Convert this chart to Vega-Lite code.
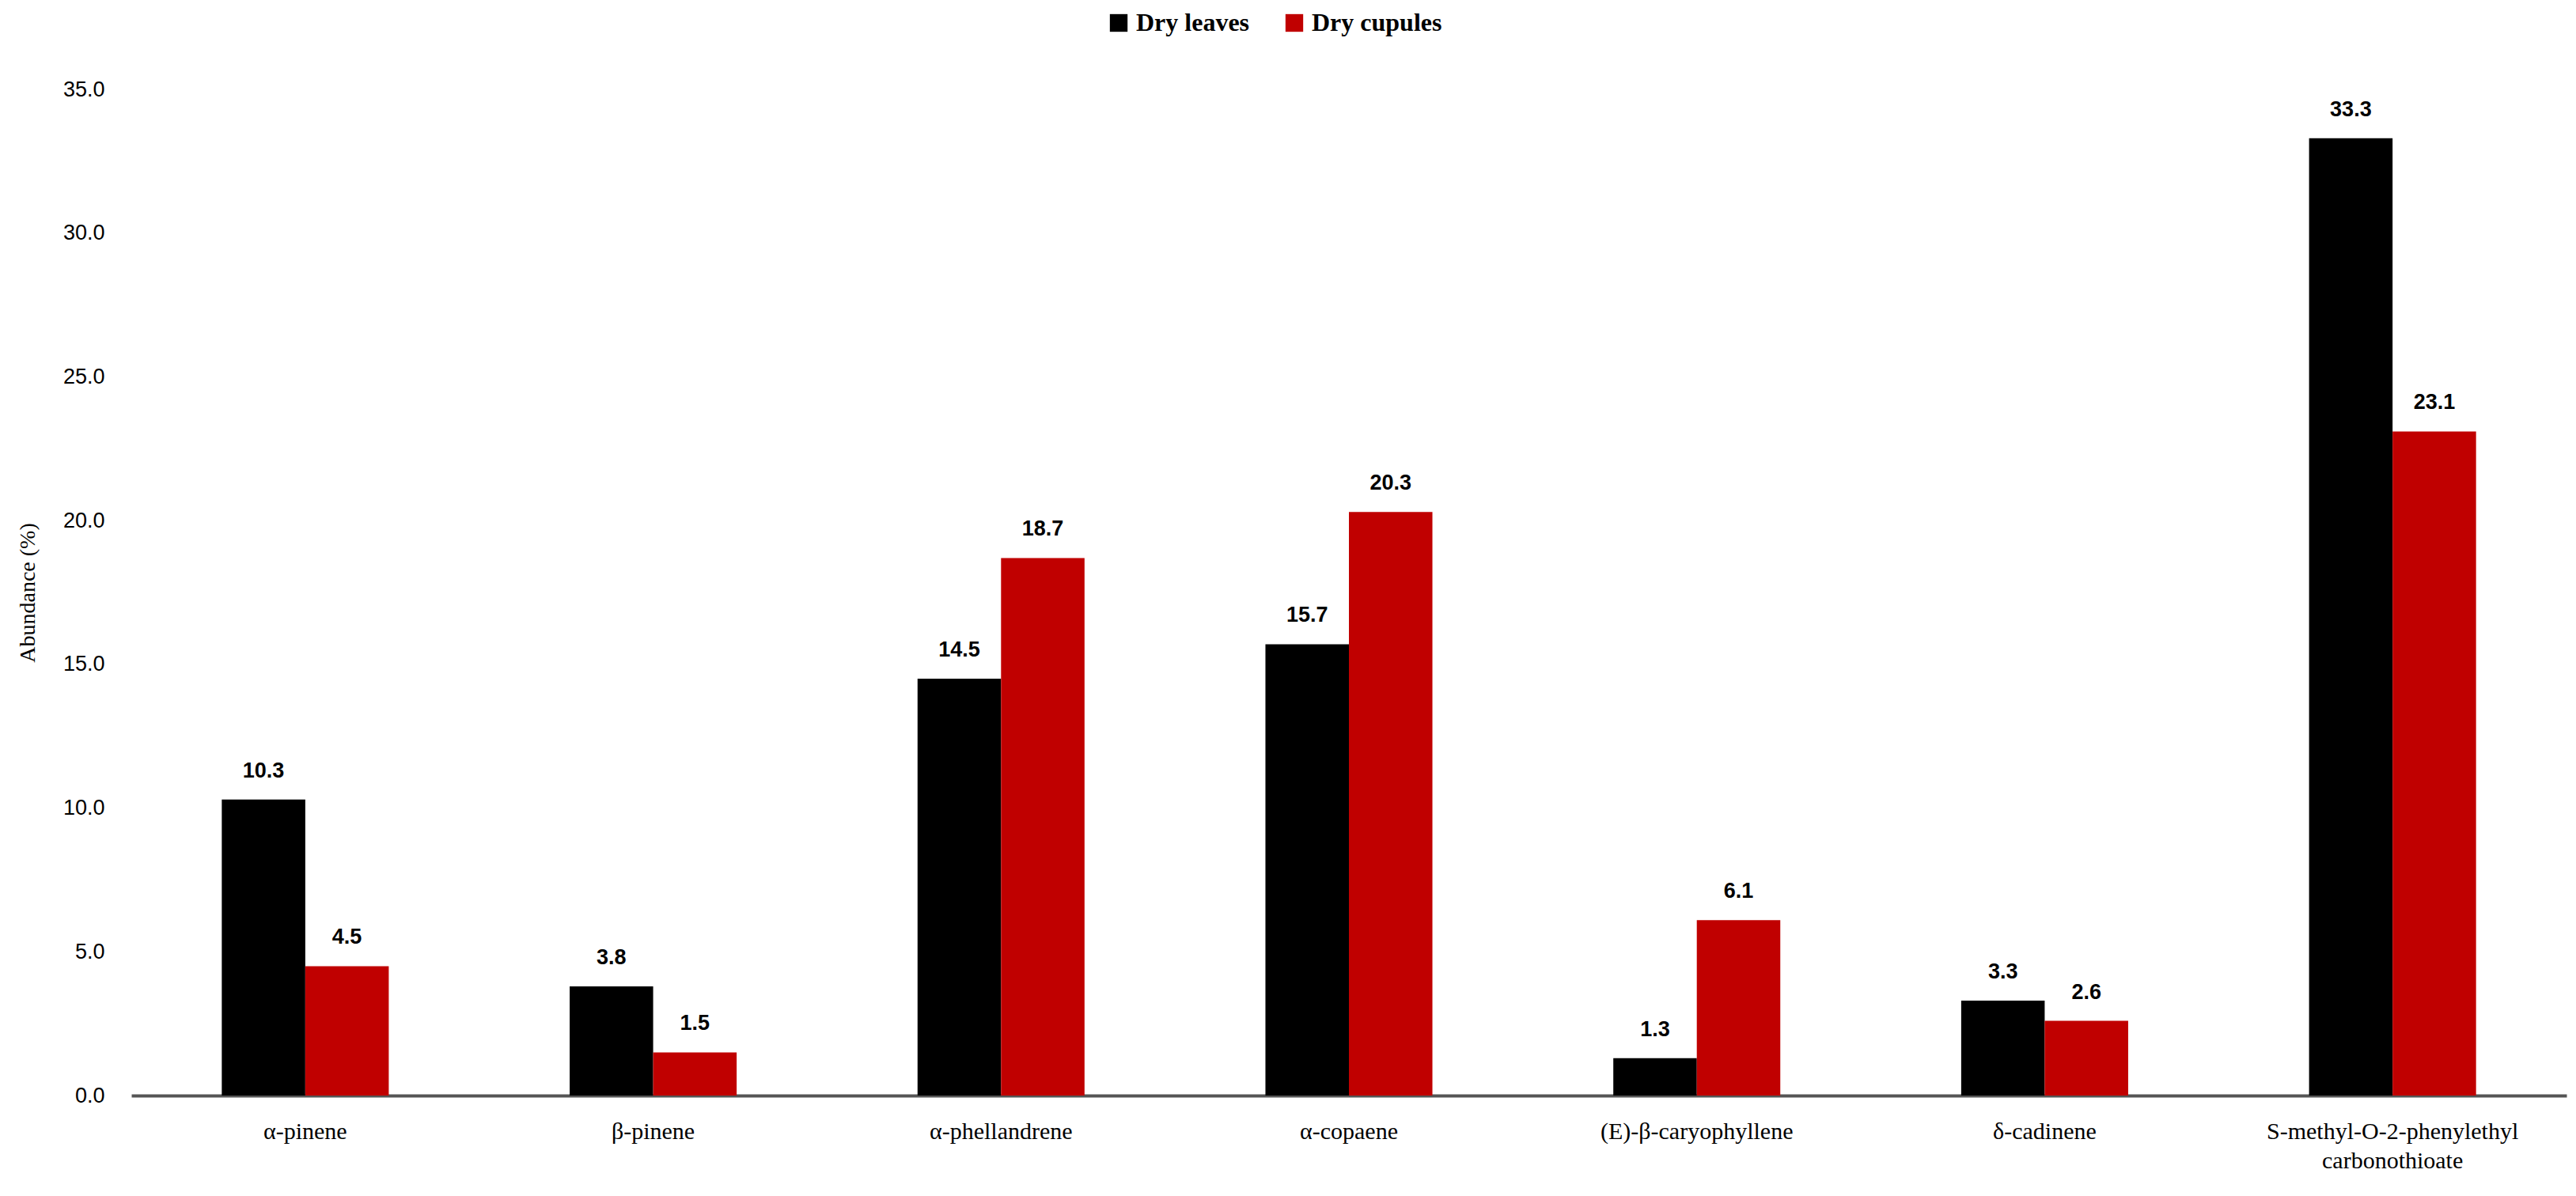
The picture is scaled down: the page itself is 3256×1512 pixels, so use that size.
{
  "$schema": "https://vega.github.io/schema/vega-lite/v6.json",
  "width": 3078,
  "height": 1272,
  "autosize": {"type": "none"},
  "padding": {"left": 166, "top": 113, "right": 12, "bottom": 127},
  "background": "white",
  "config": {"view": {"stroke": null}},
  "data": {
    "values": [
      {"compound": "α-pinene", "sample": "Dry leaves", "value": 10.3},
      {"compound": "α-pinene", "sample": "Dry cupules", "value": 4.5},
      {"compound": "β-pinene", "sample": "Dry leaves", "value": 3.8},
      {"compound": "β-pinene", "sample": "Dry cupules", "value": 1.5},
      {"compound": "α-phellandrene", "sample": "Dry leaves", "value": 14.5},
      {"compound": "α-phellandrene", "sample": "Dry cupules", "value": 18.7},
      {"compound": "α-copaene", "sample": "Dry leaves", "value": 15.7},
      {"compound": "α-copaene", "sample": "Dry cupules", "value": 20.3},
      {"compound": "(E)-β-caryophyllene", "sample": "Dry leaves", "value": 1.3},
      {"compound": "(E)-β-caryophyllene", "sample": "Dry cupules", "value": 6.1},
      {"compound": "δ-cadinene", "sample": "Dry leaves", "value": 3.3},
      {"compound": "δ-cadinene", "sample": "Dry cupules", "value": 2.6},
      {"compound": "S-methyl-O-2-phenylethyl carbonothioate", "sample": "Dry leaves", "value": 33.3},
      {"compound": "S-methyl-O-2-phenylethyl carbonothioate", "sample": "Dry cupules", "value": 23.1}
    ]
  },
  "encoding": {
    "x": {
      "field": "compound",
      "type": "nominal",
      "sort": null,
      "scale": {"paddingInner": 0.52, "paddingOuter": 0.26},
      "axis": {
        "title": null,
        "labelAngle": 0,
        "labelFont": "Liberation Serif",
        "labelFontSize": 30,
        "labelColor": "#000000",
        "labelPadding": 30,
        "labelLineHeight": 37,
        "labelLimit": 1000,
        "labelExpr": "datum.value == 'S-methyl-O-2-phenylethyl carbonothioate' ? ['S-methyl-O-2-phenylethyl', 'carbonothioate'] : datum.value",
        "ticks": false,
        "domainColor": "#555555",
        "domainWidth": 4,
        "grid": false
      }
    },
    "xOffset": {"field": "sample", "type": "nominal", "sort": ["Dry leaves", "Dry cupules"], "scale": {"paddingInner": 0, "paddingOuter": 0}},
    "y": {
      "field": "value",
      "type": "quantitative",
      "scale": {"domain": [0, 35], "nice": false},
      "axis": {
        "title": "Abundance (%)",
        "titleFont": "Liberation Serif",
        "titleFontSize": 28,
        "titleFontWeight": "normal",
        "titleColor": "#000000",
        "titlePadding": 30,
        "values": [0, 5, 10, 15, 20, 25, 30, 35],
        "format": ".1f",
        "labelFont": "Liberation Sans",
        "labelFontSize": 27,
        "labelColor": "#000000",
        "labelPadding": 34,
        "ticks": false,
        "domain": false,
        "grid": false
      }
    }
  },
  "layer": [
    {
      "mark": {"type": "bar"},
      "encoding": {
        "color": {
          "field": "sample",
          "type": "nominal",
          "sort": ["Dry leaves", "Dry cupules"],
          "scale": {"domain": ["Dry leaves", "Dry cupules"], "range": ["#000000", "#C00000"]},
          "legend": {
            "title": null,
            "orient": "none",
            "direction": "horizontal",
            "legendX": 1232,
            "legendY": -100,
            "symbolType": "square",
            "symbolSize": 500,
            "symbolStrokeWidth": 0,
            "labelFont": "Liberation Serif",
            "labelFontSize": 32,
            "labelFontWeight": "bold",
            "labelColor": "#000000",
            "labelOffset": 6,
            "labelLimit": 400,
            "columnPadding": 40
          }
        }
      }
    },
    {
      "mark": {"type": "text", "dy": -22, "baseline": "bottom", "font": "Liberation Sans", "fontSize": 27, "fontWeight": "bold", "color": "#000000"},
      "encoding": {
        "text": {"field": "value", "type": "quantitative", "format": ".1f"}
      }
    }
  ]
}
